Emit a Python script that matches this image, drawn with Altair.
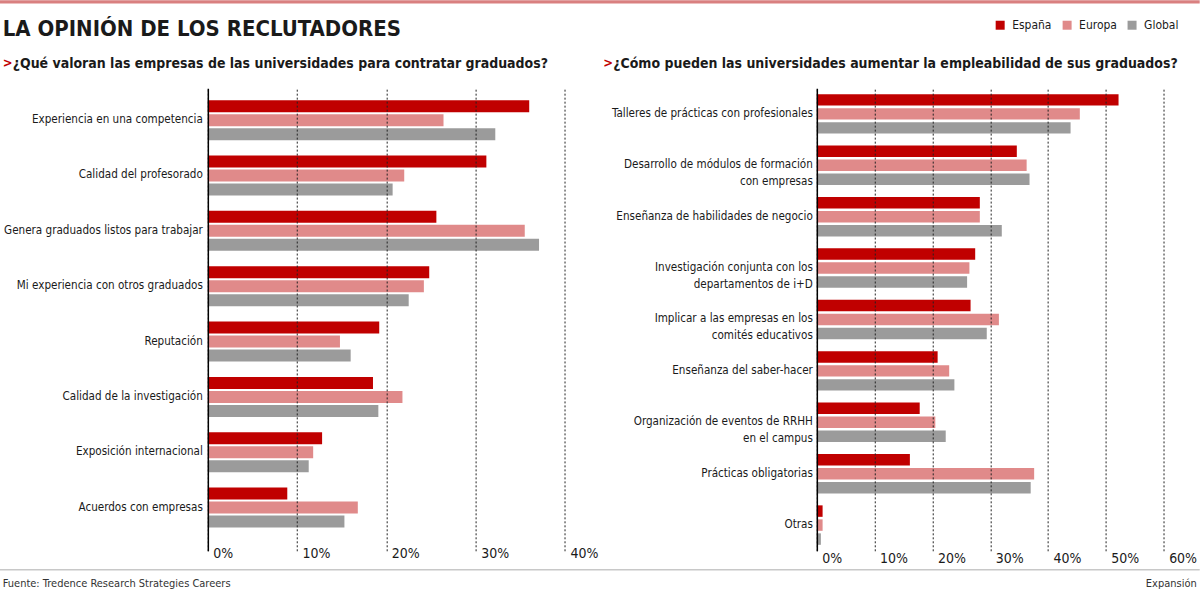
import altair as alt
import pandas as pd

FONT = "DejaVu Sans Condensed"
INK = "#1a1a1a"

SERIES = ["España", "Europa", "Global"]
COLORS = ["#c00000", "#e08a8a", "#9b9b9b"]

TITLE = "LA OPINIÓN DE LOS RECLUTADORES"
SUB_LEFT = "¿Qué valoran las empresas de las universidades para contratar graduados?"
SUB_RIGHT = "¿Cómo pueden las universidades aumentar la empleabilidad de sus graduados?"
SOURCE = "Fuente: Tredence Research Strategies Careers"
BRAND = "Expansión"

# Left panel: what companies value in universities (percent of recruiters)
LEFT_CATS = [
    "Experiencia en una competencia",
    "Calidad del profesorado",
    "Genera graduados listos para trabajar",
    "Mi experiencia con otros graduados",
    "Reputación",
    "Calidad de la investigación",
    "Exposición internacional",
    "Acuerdos con empresas",
]
LEFT_ESP = [36.0, 31.2, 25.6, 24.8, 19.2, 18.5, 12.8, 8.9]
LEFT_EUR = [26.4, 22.0, 35.5, 24.2, 14.8, 21.8, 11.8, 16.8]
LEFT_GLO = [32.2, 20.7, 37.1, 22.5, 16.0, 19.1, 11.3, 15.3]
LEFT_TICKS = [0, 10, 20, 30, 40]

# Right panel: how universities can improve employability
RIGHT_CATS = [
    "Talleres de prácticas con profesionales",
    "Desarrollo de módulos de formación\ncon empresas",
    "Enseñanza de habilidades de negocio",
    "Investigación conjunta con los\ndepartamentos de i+D",
    "Implicar a las empresas en los\ncomités educativos",
    "Enseñanza del saber-hacer",
    "Organización de eventos de RRHH\nen el campus",
    "Prácticas obligatorias",
    "Otras",
]
RIGHT_ESP = [52.2, 34.6, 28.2, 27.4, 26.6, 20.9, 17.8, 16.1, 1.0]
RIGHT_EUR = [45.5, 36.3, 28.2, 26.4, 31.5, 22.9, 20.5, 37.6, 1.0]
RIGHT_GLO = [43.9, 36.8, 32.0, 26.0, 29.4, 23.8, 22.3, 37.0, 0.7]
RIGHT_TICKS = [0, 10, 20, 30, 40, 50, 60]


def long_table(cats, esp, eur, glo):
    rows = []
    for c, a, b, g in zip(cats, esp, eur, glo):
        for s, v in zip(SERIES, (a, b, g)):
            rows.append({"cat": c, "serie": s, "valor": v})
    return pd.DataFrame(rows)


LEGEND = alt.Legend(
    orient="none", legendX=787, legendY=-69, direction="horizontal", title=None,
    symbolType="square", symbolSize=81, symbolStrokeWidth=0, symbolOpacity=1,
    labelFontSize=12, labelFont=FONT, labelColor=INK, labelOffset=6, columnPadding=9,
)


def panel(df, cats, ticks, y_scale, off_scale, label_dx, label_pad, label_limit):
    y_enc = alt.Y(
        "cat:N", sort=cats, scale=y_scale,
        axis=alt.Axis(labels=False, ticks=False, domain=True, domainColor="#000",
                      domainWidth=1.5, title=None, grid=False, zindex=2),
    )
    bars = alt.Chart(df).mark_bar().encode(
        x=alt.X(
            "valor:Q",
            scale=alt.Scale(domain=[ticks[0], ticks[-1]], nice=False, zero=True),
            axis=alt.Axis(
                values=ticks, labelExpr="datum.value + '%'", title=None,
                grid=True, gridDash=[2, 2], gridColor="#222", gridWidth=1,
                domain=False, ticks=False, tickSize=0,
                labelAlign="left", labelOffset=5, labelBaseline="middle",
                labelPadding=label_pad, labelFontSize=14, labelColor=INK,
                labelFont=FONT, zindex=1,
            ),
        ),
        y=y_enc,
        yOffset=alt.YOffset("serie:N", sort=SERIES, scale=off_scale),
        color=alt.Color("serie:N", scale=alt.Scale(domain=SERIES, range=COLORS), legend=LEGEND),
    )
    labels = alt.Chart(pd.DataFrame({"cat": cats})).mark_text(
        align="right", baseline="middle", dx=label_dx, lineBreak="\n",
        fontSize=11.6, lineHeight=17, limit=label_limit, color=INK, font=FONT,
    ).encode(y=y_enc, x=alt.value(0), text="cat:N")
    return bars, labels


def note(text, x, y, size, weight="normal", color=INK, align="left"):
    return alt.Chart(pd.DataFrame({"t": [text]})).mark_text(
        align=align, baseline="alphabetic", fontSize=size, fontWeight=weight,
        color=color, font=FONT,
    ).encode(x=alt.value(x), y=alt.value(y), text="t:N")


def band(x1, x2, y1, y2, color):
    return alt.Chart(pd.DataFrame({"k": [0]})).mark_rect(color=color).encode(
        x=alt.value(x1), x2=alt.value(x2), y=alt.value(y1), y2=alt.value(y2)
    )


left_bars, left_labels = panel(
    long_table(LEFT_CATS, LEFT_ESP, LEFT_EUR, LEFT_GLO), LEFT_CATS, LEFT_TICKS,
    alt.Scale(paddingInner=0, paddingOuter=0.179, align=0.217),
    alt.Scale(paddingInner=0.143, paddingOuter=0.55),
    label_dx=-5, label_pad=3, label_limit=210,
)
right_bars, right_labels = panel(
    long_table(RIGHT_CATS, RIGHT_ESP, RIGHT_EUR, RIGHT_GLO), RIGHT_CATS, RIGHT_TICKS,
    alt.Scale(paddingInner=0, paddingOuter=0),
    alt.Scale(paddingInner=0.18, paddingOuter=0.427),
    label_dx=-4, label_pad=8, label_limit=230,
)

# Page furniture drawn in the left panel's coordinates (plot origin at 207, 88);
# the header rule starts a little left of the page edge so it sets the left bound
decor = [
    band(-217.3, 992.7, -88, -84.7, "#d98080"),
    band(-217.3, 992.7, 481.3, 482.8, "#c8c8c8"),
    note(TITLE, -205.3, -52, 22, weight="bold"),
    note(">", -205.3, -21, 13, weight="bold", color="#c00000"),
    note(SUB_LEFT, -195.3, -20, 14, weight="bold"),
    note(">", 395.7, -21, 13, weight="bold", color="#c00000"),
    note(SUB_RIGHT, 405.7, -20, 14, weight="bold"),
    note(SOURCE, -205.3, 499, 11, color="#333333"),
    note(BRAND, 989.7, 499, 11, color="#333333", align="right"),
]

left = alt.layer(*decor, left_bars, left_labels).properties(width=357.4, height=463)
right = alt.layer(right_bars, right_labels).properties(width=347.1, height=463)

chart = (
    alt.hconcat(left, right, spacing=251.5, bounds="flush")
    .resolve_scale(x="independent", y="independent", yOffset="independent", color="shared")
    .properties(padding={"left": -10, "top": 0, "right": 0, "bottom": 0}, background="white")
    .configure(font=FONT)
    .configure_view(stroke=None)
)

chart.save("out.html", embed_options={"renderer": "svg", "actions": False})
